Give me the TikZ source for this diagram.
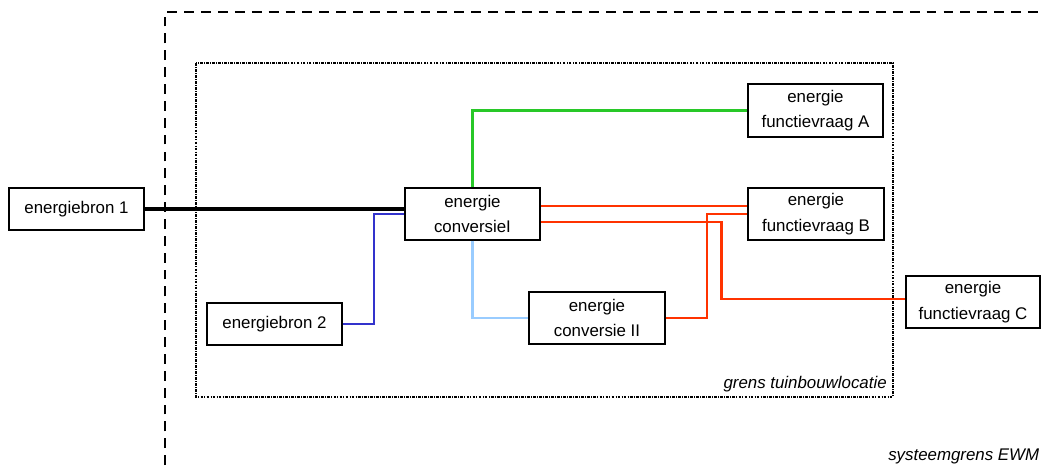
\documentclass[tikz,border=0pt]{standalone}
\usepackage{fontspec}
\setmainfont{Liberation Sans}
\usepackage{tikz}
\usetikzlibrary{positioning,calc}
\definecolor{lijnrood}{RGB}{255,51,0}
\definecolor{lijngroen}{RGB}{40,200,40}
\definecolor{lijnblauw}{RGB}{51,51,204}
\definecolor{lijnlichtblauw}{RGB}{153,204,255}
\tikzset{
    block/.style = {
        draw,
        shape=rectangle,
        minimum height=1.3cm,
        minimum width=3.375cm,
        inner sep=0pt,
        line width=0.8pt,
        align=center,
        font=\fontsize{12}{18}\selectfont
    },
    bron/.style = {
        block,
        minimum height=1.05cm
    },
    leiding/.style = {
        line width=2pt
    },
    systeemgrens/.style = {
        draw,
        line width=1.4pt,
        dash pattern=on 7pt off 5pt
    },
    locatiegrens/.style = {
        draw,
        line width=0.9pt,
        dash pattern=on 2pt off 0.8pt on 0.7pt off 0.8pt
    },
    grenslabel/.style = {
        font=\fontsize{12}{14}\selectfont\itshape,
        inner sep=0pt
    },
}
\begin{document}
\begin{tikzpicture}
            \useasboundingbox (0,0) rectangle (26.025,-11.625);

            \path[systeemgrens] (4.125,-11.625) |- (26.025,-0.3);
            \path[locatiegrens] (4.9,-1.575) rectangle (22.325,-9.925);
            \node[grenslabel, anchor=base east] (labloc) at (22.175,-9.7) {grens tuinbouwlocatie};
            \node[grenslabel, anchor=base west] (labsys) at (22.2,-11.5) {systeemgrens EWM};

            \node[bron] (bron1) at (1.9125,-5.225) {energiebron 1};
            \node[bron] (bron2) at (6.8625,-8.1) {energiebron 2};
            \node[block] (conv1) at (11.8125,-5.35) {energie\\conversieI};
            \node[block, minimum width=3.4cm] (conv2) at (14.925,-7.95) {energie\\conversie II};
            \node[block, minimum height=1.325cm] (vraagA) at (20.3875,-2.7625) {energie\\functievraag A};
            \node[block, minimum width=3.4cm] (vraagB) at (20.4,-5.35) {energie\\functievraag B};
            \node[block, minimum width=3.35cm] (vraagC) at (24.325,-7.55) {energie\\functievraag C};

            \path[draw, leiding, line width=2.4pt] (bron1.east) -- (bron1.east -| conv1.west);
            \path[draw, leiding, lijnblauw, line width=1.7pt] (bron2.east) -| (9.35,-6) |- (conv1.west);
            \path[draw, leiding, lijngroen, line width=1.6pt] (conv1.north) |- (vraagA.west);
            \path[draw, leiding, lijnlichtblauw, line width=1.6pt] (conv1.south) |- (conv2.west);
            \path[draw, leiding, lijnrood] ([yshift=0.2cm]conv1.east) -- ([yshift=0.2cm]vraagB.west);
            \path[draw, leiding, lijnrood] ([yshift=-0.2cm]conv1.east) -| (18.04,-6.5) |- ([yshift=0.075cm]vraagC.west);
            \path[draw, leiding, lijnrood] (conv2.east) -| (17.675,-6.5) |- (vraagB.west);
        \end{tikzpicture}
\end{document}
